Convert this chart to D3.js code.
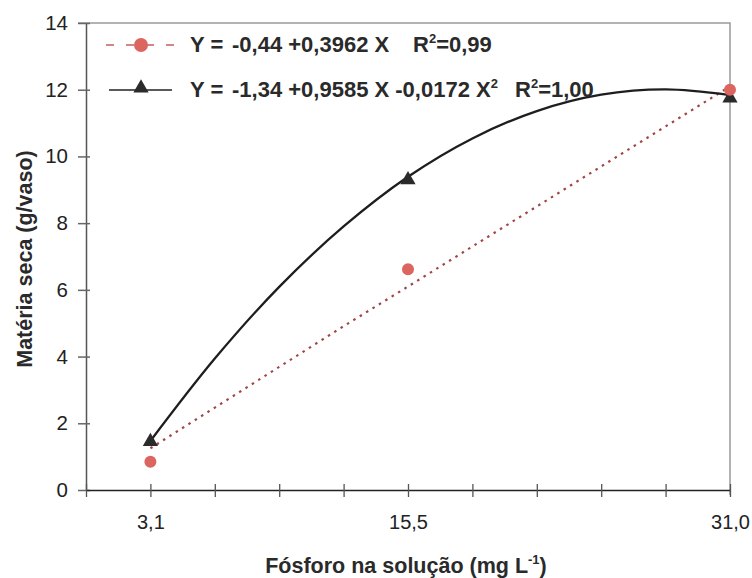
<!DOCTYPE html>
<html>
<head>
<meta charset="utf-8">
<script src="https://cdn.jsdelivr.net/npm/d3@7"></script>
<style>
  body { margin: 0; background: #fff; }
  text { font-family: "Liberation Sans", Arial, sans-serif; }
</style>
</head>
<body>
<script>
// fosforo levels on the x axis (one tick every 3,1)
var xSteps = [3.1, 6.2, 9.3, 12.4, 15.5, 18.6, 21.7, 24.8, 27.9, 31.0];
var xLabels = [3.1, 15.5, 31.0];
var yTicks = [0, 2, 4, 6, 8, 10, 12, 14];

// observed points
var obsX = [3.1, 15.5, 31.0];
var linearObs = [0.85, 6.62, 12.0];   // red circles
var quadObs = [1.45, 9.3, 11.75];     // black triangles

// fitted lines at each tick
var linearFit = [1.25, 2.47, 3.69, 4.91, 6.1, 7.3, 8.5, 9.7, 10.9, 12.1];
var quadFit = [1.47, 3.94, 6.09, 7.9, 9.39, 10.54, 11.36, 11.85, 12.01, 11.84];

var w = 752, h = 578;
var pL = 86, pR = 730, pT = 23, pB = 490; // plot box

var svg = d3.select("body").append("svg")
    .attr("width", w)
    .attr("height", h);

var x = d3.scaleLinear().domain([0, 31]).range([pL, pR]);
var y = d3.scaleLinear().domain([0, 14]).range([pB, pT]);

// plot frame (top + right in light gray)
svg.append("path")
    .attr("d", "M" + (pL - 8) + "," + pT + "H" + pR + "V" + (pB + 5))
    .attr("fill", "none")
    .attr("stroke", "#9a9a9a")
    .attr("stroke-width", 1.5);

// y axis
var yAxis = d3.axisLeft(y)
    .tickValues(yTicks)
    .tickSize(0)
    .tickPadding(18)
    .tickFormat(d3.format("d"));
var gy = svg.append("g")
    .attr("transform", "translate(" + pL + ",0)")
    .call(yAxis);
gy.select(".domain").attr("stroke", "#555").attr("stroke-width", 1.5);
gy.selectAll(".tick line").remove();
gy.selectAll(".tick").append("line")
    .attr("x1", -8).attr("x2", 4)
    .attr("stroke", "#666").attr("stroke-width", 1.5);
gy.selectAll(".tick text")
    .attr("fill", "#222")
    .style("font-size", "20.5px");

// x axis
var xAxis = d3.axisBottom(x)
    .tickValues([0].concat(xSteps))
    .tickSize(0)
    .tickPadding(25)
    .tickFormat(function(d) {
        return xLabels.indexOf(d) >= 0 ? d3.format(".1f")(d).replace(".", ",") : "";
    });
var gx = svg.append("g")
    .attr("transform", "translate(0," + pB + ")")
    .call(xAxis);
gx.select(".domain").attr("stroke", "#222").attr("stroke-width", 1.5);
gx.selectAll(".tick line").remove();
gx.selectAll(".tick").append("line")
    .attr("y1", -6).attr("y2", 7)
    .attr("stroke", "#555").attr("stroke-width", 1.3);
gx.selectAll(".tick text")
    .attr("fill", "#222")
    .style("font-size", "20px");

// axis titles
svg.append("text")
    .attr("transform", "translate(32,259) rotate(-90)")
    .attr("text-anchor", "middle")
    .style("font-size", "21.5px")
    .style("font-weight", "bold")
    .attr("fill", "#2a2a2a")
    .text("Matéria seca (g/vaso)");

var xt = svg.append("text")
    .attr("x", 406)
    .attr("y", 573)
    .attr("text-anchor", "middle")
    .style("font-size", "21.5px")
    .style("font-weight", "bold")
    .attr("fill", "#2a2a2a");
xt.append("tspan").text("Fósforo na solução (mg L");
xt.append("tspan").attr("dy", -9).style("font-size", "13px").text("-1");
xt.append("tspan").attr("dy", 9).text(")");

// fitted lines
var line = d3.line()
    .x(function(d, i) { return x(xSteps[i]); })
    .y(function(d) { return y(d); });

svg.append("path")
    .datum(linearFit)
    .attr("d", line)
    .attr("fill", "none")
    .attr("stroke", "#a04545")
    .attr("stroke-width", 2.2)
    .attr("stroke-dasharray", "2.5,5");

svg.append("path")
    .datum(quadFit)
    .attr("d", line.curve(d3.curveCatmullRom.alpha(0.5)))
    .attr("fill", "none")
    .attr("stroke", "#1e1e1e")
    .attr("stroke-width", 2.3);

// markers
var tri = d3.symbol().type(d3.symbolTriangle).size(100);

svg.selectAll(".tri")
    .data(quadObs)
    .enter()
    .append("path")
    .attr("class", "tri")
    .attr("d", tri)
    .attr("transform", function(d, i) {
        return "translate(" + x(obsX[i]) + "," + y(d) + ")";
    })
    .attr("fill", "#2b2b2b");

svg.selectAll(".dot")
    .data(linearObs)
    .enter()
    .append("circle")
    .attr("class", "dot")
    .attr("cx", function(d, i) { return x(obsX[i]); })
    .attr("cy", function(d) { return y(d); })
    .attr("r", 6)
    .attr("fill", "#dc6560");

// legend
var lg = svg.append("g");

lg.append("line")
    .attr("x1", 106).attr("x2", 176).attr("y1", 45).attr("y2", 45)
    .attr("stroke", "#c06060").attr("stroke-width", 1.3)
    .attr("stroke-dasharray", "8,12");
lg.append("circle")
    .attr("cx", 141).attr("cy", 45).attr("r", 7)
    .attr("fill", "#dc6560");

lg.append("line")
    .attr("x1", 109).attr("x2", 172).attr("y1", 90).attr("y2", 90)
    .attr("stroke", "#222").attr("stroke-width", 1.3);
lg.append("path")
    .attr("d", d3.symbol().type(d3.symbolTriangle).size(100))
    .attr("transform", "translate(141,88)")
    .attr("fill", "#2b2b2b");

function legendText(yPos, parts) {
    var t = lg.append("text")
        .attr("y", yPos)
        .style("font-size", "22px")
        .style("font-weight", "bold")
        .attr("fill", "#2a2a2a");
    parts.forEach(function(p) {
        var s = t.append("tspan").text(p.t);
        if (p.x !== undefined) s.attr("x", p.x).attr("dy", 0);
        if (p.sup) s.attr("dy", -9).style("font-size", "13px");
        if (p.after) s.attr("dy", 9);
    });
}

legendText(52, [
    {t: "Y =", x: 190},
    {t: "-0,44 +0,3962 X", x: 232},
    {t: "R", x: 413},
    {t: "2", sup: true},
    {t: "=0,99", after: true}
]);
legendText(97, [
    {t: "Y =", x: 190},
    {t: "-1,34 +0,9585 X -0,0172 X", x: 232},
    {t: "2", sup: true},
    {t: "R", x: 515, after: true},
    {t: "2", sup: true},
    {t: "=1,00", after: true}
]);
</script>
</body>
</html>
